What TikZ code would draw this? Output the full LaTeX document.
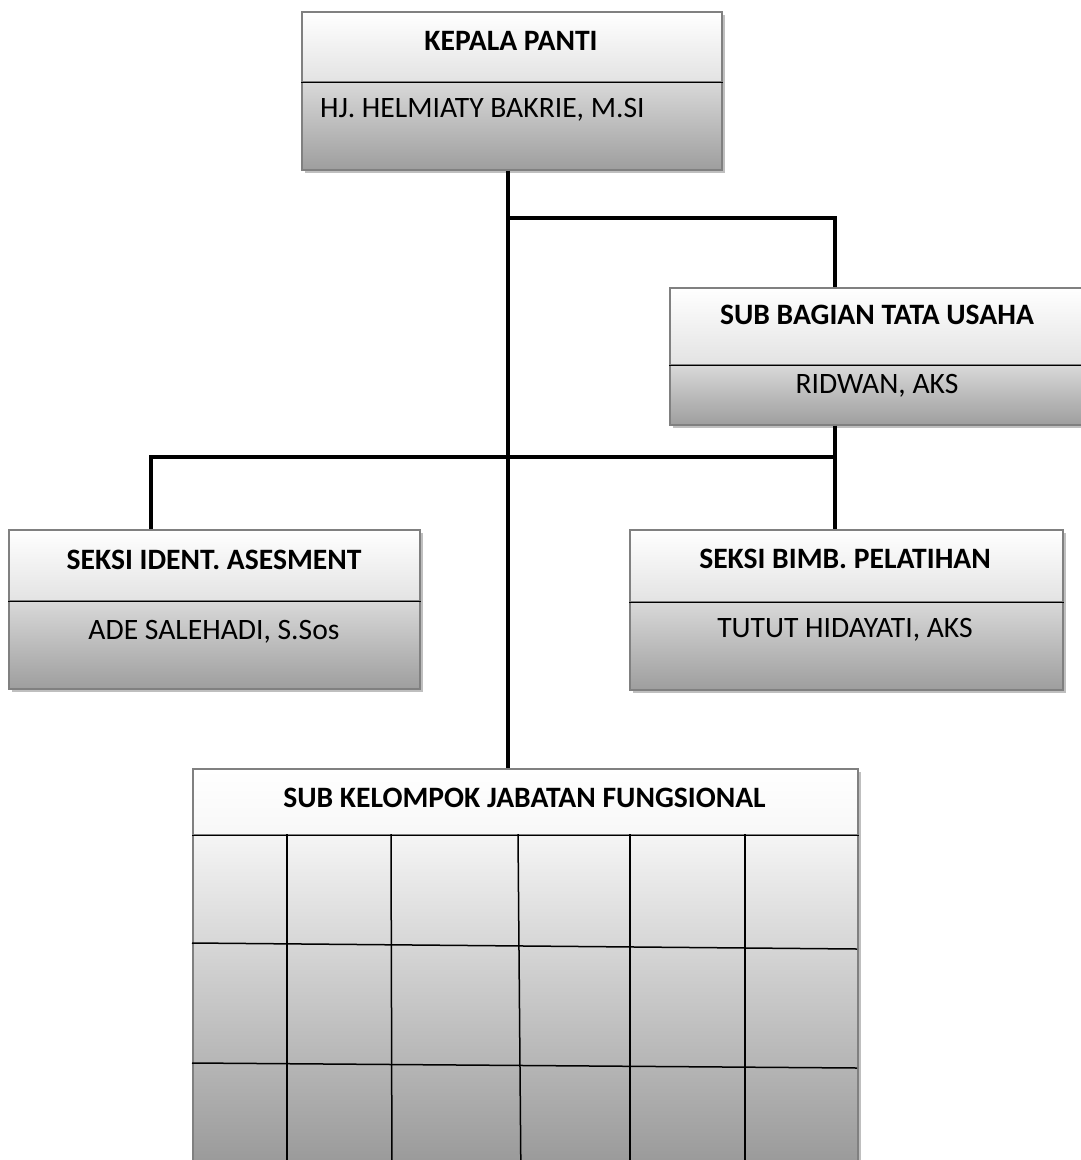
\documentclass[tikz,border=0pt]{standalone}
\usepackage{fontspec}
\setmainfont{Carlito}
\usetikzlibrary{shadows}
\begin{document}
\begin{tikzpicture}[x=1pt,y=-1pt,
  part/.style={rectangle,draw=gray,line width=1.6pt,inner sep=0pt,anchor=north west,
    drop shadow={shadow xshift=3pt,shadow yshift=-3pt,fill=black,opacity=0.25}},
  toppart/.style={part,top color=white,bottom color=gray!22},
  botpart/.style={part,top color=gray!30,bottom color=gray!76},
  divline/.style={line width=1.6pt,black},
  gridline/.style={line width=1.5pt,black},
  conn/.style={line width=3.4pt,black},
  ttl/.style={font=\fontsize{29.6}{35}\selectfont\bfseries,anchor=base,inner sep=0pt},
  sub/.style={font=\fontsize{29.6}{35}\selectfont,anchor=base,inner sep=0pt}
]
\useasboundingbox (0,0) rectangle (1081,1160);
\clip (0,0) rectangle (1081,1160);

% KEPALA PANTI
\node[toppart,minimum width=420pt,minimum height=70pt] (kpt) at (301,11) {};
\node[botpart,minimum width=420pt,minimum height=88pt] (kpb) at (301,81) {};
\draw[divline] (kpt.south west) -- (kpt.south east);
\node[ttl] (kptx) at (511,50) {KEPALA PANTI};
\node[sub,anchor=base west] (kpbx) at (320,117) {HJ. HELMIATY BAKRIE, M.SI};

% SUB BAGIAN TATA USAHA
\node[toppart,minimum width=416pt,minimum height=77pt] (sbt) at (669,287) {};
\node[botpart,minimum width=416pt,minimum height=60pt] (sbb) at (669,364) {};
\draw[divline] (sbt.south west) -- (sbt.south east);
\node[ttl] (sbtx) at (877,324) {SUB BAGIAN TATA USAHA};
\node[sub] (sbbx) at (877,393) {RIDWAN, AKS};

% SEKSI IDENT. ASESMENT
\node[toppart,minimum width=411pt,minimum height=71pt] (sit) at (8,529) {};
\node[botpart,minimum width=411pt,minimum height=88pt] (sib) at (8,600) {};
\draw[divline] (sit.south west) -- (sit.south east);
\node[ttl] (sitx) at (214,569) {SEKSI IDENT. ASESMENT};
\node[sub] (sibx) at (214,639) {ADE SALEHADI, S.Sos};

% SEKSI BIMB. PELATIHAN
\node[toppart,minimum width=433pt,minimum height=72pt] (bpt) at (629,529) {};
\node[botpart,minimum width=433pt,minimum height=88pt] (bpb) at (629,601) {};
\draw[divline] (bpt.south west) -- (bpt.south east);
\node[ttl] (bptx) at (845,568) {SEKSI BIMB. PELATIHAN};
\node[sub] (bpbx) at (845,637) {TUTUT HIDAYATI, AKS};

% SUB KELOMPOK JABATAN FUNGSIONAL
\node[part,top color=white,bottom color=gray!6,minimum width=665pt,minimum height=66pt] (fgt) at (192,768) {};
\node[part,top color=gray!8,bottom color=gray!84,minimum width=665pt,minimum height=350pt] (fgb) at (192,834) {};
\draw[divline] (fgt.south west) -- (fgt.south east);
\node[ttl] (fgtx) at (524.5,807) {SUB KELOMPOK JABATAN FUNGSIONAL};
\draw[gridline] (192,943) -- (857,949);
\draw[gridline] (192,1063) -- (857,1068);
\draw[gridline] (287,834) -- (287,1184);
\draw[gridline] (391,834) -- (392,1184);
\draw[gridline] (518,834) -- (521,1184);
\draw[gridline] (630,834) -- (630,1184);
\draw[gridline] (745,834) -- (745,1184);

% connectors
\coordinate (t1) at (508,218);
\coordinate (s1) at (835,218);
\coordinate (s2) at (835,457);
\coordinate (l1) at (151,457);
\draw[conn] (kpb.south -| t1) -- (fgt.north -| t1);
\draw[conn] (t1) -- (s1) -- (sbt.north -| s1);
\draw[conn] (sbb.south -| s2) -- (bpt.north -| s2);
\draw[conn] (s2) -- (l1) -- (sit.north -| l1);
\end{tikzpicture}
\end{document}
